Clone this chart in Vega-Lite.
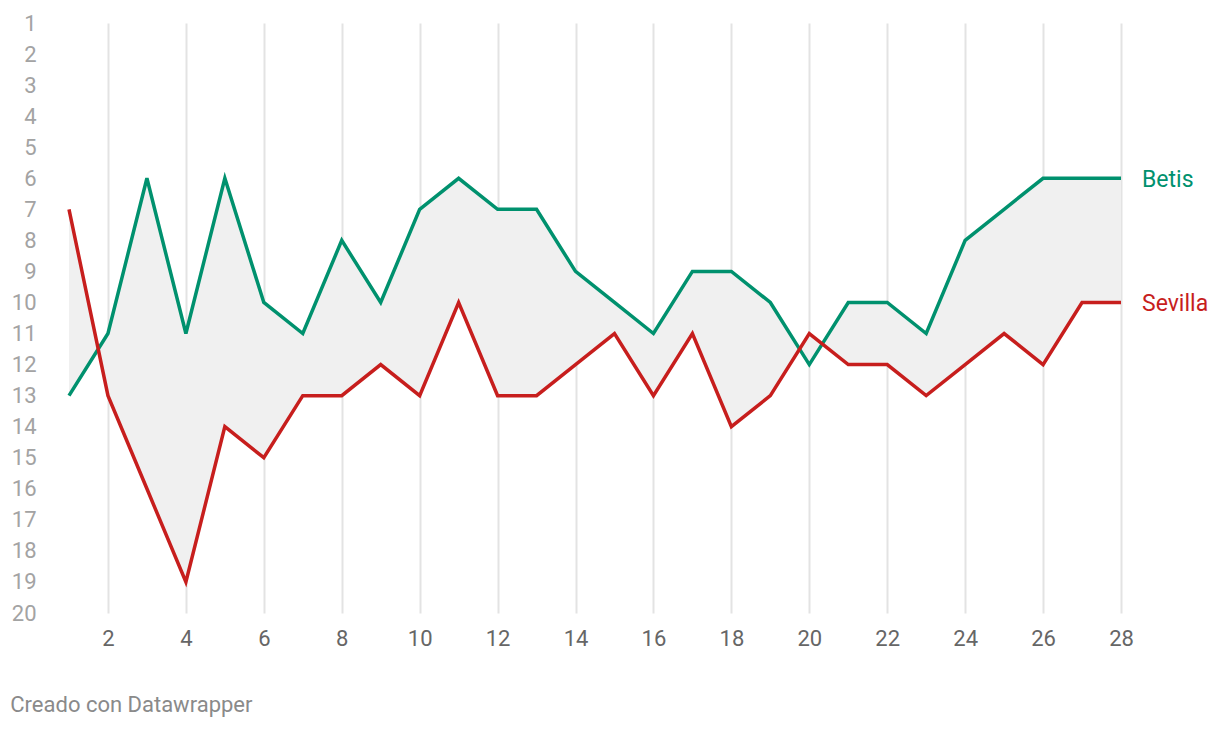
{
  "$schema": "https://vega.github.io/schema/vega-lite/v6.json",
  "width": 1052,
  "height": 590,
  "autosize": {"type": "none"},
  "padding": {"left": 69, "top": 23, "right": 99, "bottom": 117},
  "background": "#ffffff",
  "config": {
    "view": {"stroke": null},
    "font": "Roboto",
    "axis": {"labelFont": "Roboto", "labelFontSize": 22, "domain": false, "ticks": false, "title": null, "labelOverlap": false, "labelFlush": false},
    "axisX": {"grid": true, "gridColor": "#e3e3e3", "gridWidth": 2, "labelColor": "#666666", "labelPadding": 15},
    "axisY": {"grid": false, "labelColor": "#a3a3a3", "labelPadding": 33, "labelBaseline": "middle", "labelSeparation": 0}
  },
  "title": {
    "text": "Creado con Datawrapper",
    "orient": "bottom",
    "anchor": "start",
    "font": "Roboto",
    "fontSize": 22,
    "fontWeight": "normal",
    "color": "#8a8a8a",
    "dx": -1,
    "offset": 46
  },
  "data": {
    "values": [
      {"jornada": 1, "Betis": 13, "Sevilla": 7},
      {"jornada": 2, "Betis": 11, "Sevilla": 13},
      {"jornada": 3, "Betis": 6, "Sevilla": 16},
      {"jornada": 4, "Betis": 11, "Sevilla": 19},
      {"jornada": 5, "Betis": 6, "Sevilla": 14},
      {"jornada": 6, "Betis": 10, "Sevilla": 15},
      {"jornada": 7, "Betis": 11, "Sevilla": 13},
      {"jornada": 8, "Betis": 8, "Sevilla": 13},
      {"jornada": 9, "Betis": 10, "Sevilla": 12},
      {"jornada": 10, "Betis": 7, "Sevilla": 13},
      {"jornada": 11, "Betis": 6, "Sevilla": 10},
      {"jornada": 12, "Betis": 7, "Sevilla": 13},
      {"jornada": 13, "Betis": 7, "Sevilla": 13},
      {"jornada": 14, "Betis": 9, "Sevilla": 12},
      {"jornada": 15, "Betis": 10, "Sevilla": 11},
      {"jornada": 16, "Betis": 11, "Sevilla": 13},
      {"jornada": 17, "Betis": 9, "Sevilla": 11},
      {"jornada": 18, "Betis": 9, "Sevilla": 14},
      {"jornada": 19, "Betis": 10, "Sevilla": 13},
      {"jornada": 20, "Betis": 12, "Sevilla": 11},
      {"jornada": 21, "Betis": 10, "Sevilla": 12},
      {"jornada": 22, "Betis": 10, "Sevilla": 12},
      {"jornada": 23, "Betis": 11, "Sevilla": 13},
      {"jornada": 24, "Betis": 8, "Sevilla": 12},
      {"jornada": 25, "Betis": 7, "Sevilla": 11},
      {"jornada": 26, "Betis": 6, "Sevilla": 12},
      {"jornada": 27, "Betis": 6, "Sevilla": 10},
      {"jornada": 28, "Betis": 6, "Sevilla": 10}
    ]
  },
  "layer": [
    {
      "mark": {"type": "area", "color": "#f0f0f0", "opacity": 1},
      "encoding": {
        "x": {
          "field": "jornada",
          "type": "quantitative",
          "scale": {"domain": [1, 28], "nice": false, "zero": false},
          "axis": {"values": [2, 4, 6, 8, 10, 12, 14, 16, 18, 20, 22, 24, 26, 28], "labelOverlap": false}
        },
        "y": {
          "field": "Betis",
          "type": "quantitative",
          "scale": {"domain": [1, 20], "nice": false, "zero": false, "reverse": true},
          "axis": {"values": [1, 2, 3, 4, 5, 6, 7, 8, 9, 10, 11, 12, 13, 14, 15, 16, 17, 18, 19, 20], "labelOverlap": false}
        },
        "y2": {"field": "Sevilla"}
      }
    },
    {
      "transform": [{"fold": ["Betis", "Sevilla"], "as": ["equipo", "puesto"]}],
      "layer": [
        {
          "mark": {"type": "line", "strokeWidth": 3.5, "strokeJoin": "miter"},
          "encoding": {
            "x": {"field": "jornada", "type": "quantitative", "axis": {"values": [2, 4, 6, 8, 10, 12, 14, 16, 18, 20, 22, 24, 26, 28], "labelOverlap": false}},
            "y": {"field": "puesto", "type": "quantitative", "axis": {"values": [1, 2, 3, 4, 5, 6, 7, 8, 9, 10, 11, 12, 13, 14, 15, 16, 17, 18, 19, 20], "labelOverlap": false}},
            "color": {
              "field": "equipo",
              "type": "nominal",
              "scale": {"domain": ["Betis", "Sevilla"], "range": ["#00916e", "#c71e1d"]},
              "legend": null
            }
          }
        },
        {
          "transform": [{"filter": "datum.jornada == 28"}],
          "mark": {"type": "text", "align": "left", "baseline": "middle", "dx": 21, "dy": 2, "fontSize": 23, "font": "Roboto"},
          "encoding": {
            "x": {"field": "jornada", "type": "quantitative", "axis": {"values": [2, 4, 6, 8, 10, 12, 14, 16, 18, 20, 22, 24, 26, 28], "labelOverlap": false}},
            "y": {"field": "puesto", "type": "quantitative", "axis": {"values": [1, 2, 3, 4, 5, 6, 7, 8, 9, 10, 11, 12, 13, 14, 15, 16, 17, 18, 19, 20], "labelOverlap": false}},
            "text": {"field": "equipo"},
            "color": {"field": "equipo", "type": "nominal", "legend": null}
          }
        }
      ]
    }
  ]
}
